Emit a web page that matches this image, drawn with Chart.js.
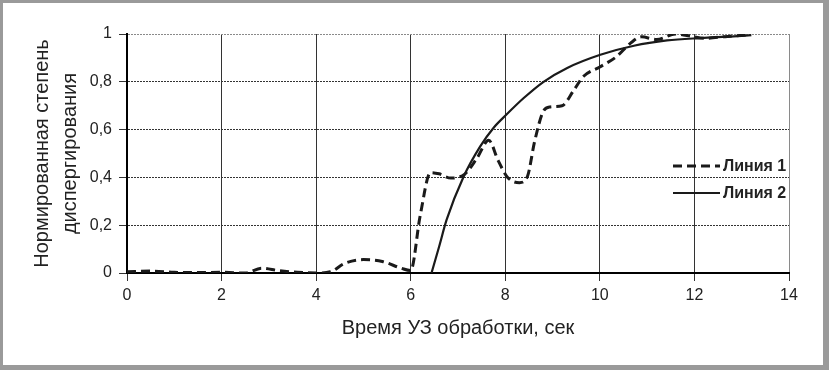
<!DOCTYPE html>
<html>
<head>
<meta charset="utf-8">
<script src="https://cdn.jsdelivr.net/npm/chart.js@4"></script>
<style>
  html, body { margin: 0; padding: 0; background: #fff; }
  #frame {
    width: 829px; height: 370px; box-sizing: border-box;
    border-top: 3px solid #9a9a9a; border-left: 3px solid #9a9a9a;
    border-right: 6px solid #9a9a9a; border-bottom: 5px solid #9a9a9a;
    background: #fff;
  }
  canvas { display: block; }
</style>
</head>
<body>
<div id="frame"><canvas id="chart" width="820" height="362"></canvas></div>
<script>
// --- данные ---
const line1X = [0, 0.5, 1, 1.5, 2, 2.5, 2.85, 3.2, 3.6, 4, 4.3, 4.6, 5.0, 5.4, 5.8, 6.0, 6.2, 6.42, 6.6, 6.85, 7.15, 7.4, 7.65, 7.85, 8.05, 8.3, 8.47, 8.62, 8.8, 8.95, 9.2, 9.45, 9.65, 10.0, 10.35, 10.65, 10.88, 11.2, 11.6, 11.95, 12.2, 12.7, 13.2];
const line1Y = [0.005, 0.008, 0.003, 0.002, 0.003, 0.0, 0.02, 0.01, 0.003, 0.0, 0.005, 0.04, 0.056, 0.048, 0.02, 0.01, 0.24, 0.42, 0.415, 0.397, 0.415, 0.48, 0.555, 0.47, 0.4, 0.378, 0.405, 0.55, 0.675, 0.695, 0.70, 0.765, 0.822, 0.862, 0.905, 0.962, 0.988, 0.977, 1.0, 0.99, 0.982, 0.99, 0.997];

const line2X = [6.44, 6.6, 6.76, 7.12, 7.47, 7.75, 8.02, 8.39, 8.81, 9.31, 10.01, 10.72, 11.42, 12.13, 12.83, 13.2];
const line2Y = [0, 0.11, 0.223, 0.404, 0.53, 0.607, 0.662, 0.732, 0.80, 0.858, 0.913, 0.951, 0.973, 0.983, 0.99, 0.995];

const seriesNames = ['Линия 1', 'Линия 2'];
const xTicks = [0, 2, 4, 6, 8, 10, 12, 14];
const yTickLabels = ['0', '0,2', '0,4', '0,6', '0,8', '1'];
const xTitle = 'Время УЗ обработки, сек';
const yTitle = ['Нормированная степень', 'диспергирования'];

const FONT = "Arial, 'Liberation Sans', sans-serif";
const TEXT = '#222';

const toPoints = (xs, ys) => xs.map((x, i) => ({ x: x, y: ys[i] }));

// легенда внутри области графика
const insideLegend = {
  id: 'insideLegend',
  afterDraw(chart) {
    const ctx = chart.ctx;
    const rows = [163, 190];
    chart.data.datasets.forEach((ds, i) => {
      const y = rows[i];
      ctx.save();
      ctx.strokeStyle = ds.borderColor;
      ctx.lineWidth = ds.borderWidth;
      ctx.setLineDash(ds.borderDash || []);
      ctx.beginPath();
      ctx.moveTo(670, y);
      ctx.lineTo(717, y);
      ctx.stroke();
      ctx.setLineDash([]);
      ctx.fillStyle = TEXT;
      ctx.font = 'bold 16px ' + FONT;
      ctx.textBaseline = 'middle';
      ctx.fillText(ds.label, 720, y + 1);
      ctx.restore();
    });
  }
};

new Chart(document.getElementById('chart'), {
  type: 'line',
  data: {
    datasets: [
      {
        label: seriesNames[0],
        data: toPoints(line1X, line1Y),
        borderColor: '#1a1a1a',
        borderWidth: 3,
        borderDash: [9, 5],
        pointRadius: 0,
        cubicInterpolationMode: 'monotone',
        fill: false
      },
      {
        label: seriesNames[1],
        data: toPoints(line2X, line2Y),
        borderColor: '#1a1a1a',
        borderWidth: 2.2,
        pointRadius: 0,
        cubicInterpolationMode: 'monotone',
        fill: false
      }
    ]
  },
  options: {
    responsive: false,
    animation: false,
    layout: { padding: { top: 31, right: 34, left: 0, bottom: 0 } },
    plugins: {
      legend: { display: false },
      tooltip: { enabled: false }
    },
    scales: {
      x: {
        type: 'linear',
        min: 0, max: 14,
        afterBuildTicks: (scale) => { scale.ticks = xTicks.map(v => ({ value: v })); },
        afterFit: (scale) => { scale.height = 92; },
        border: { color: '#000', width: 2 },
        grid: {
          color: (c) => c.tick && c.tick.value === 14 ? '#8a8a8a' : '#333',
          lineWidth: 1,
          tickLength: 8,
          tickColor: '#333'
        },
        ticks: {
          color: TEXT,
          padding: 5,
          font: { family: FONT, size: 16 },
          maxRotation: 0
        },
        title: {
          display: true,
          text: xTitle,
          color: TEXT,
          font: { family: FONT, size: 20 },
          padding: { top: 0, bottom: 25 }
        }
      },
      y: {
        min: 0, max: 1,
        afterBuildTicks: (scale) => { scale.ticks = yTickLabels.map((t, i) => ({ value: i * 0.2 })); },
        afterFit: (scale) => { scale.width = 124; },
        // dash здесь задаёт пунктир горизонтальных линий сетки
        border: { color: '#000', width: 2, dash: [2, 1] },
        grid: {
          color: (c) => c.tick && c.index === yTickLabels.length - 1 ? '#8a8a8a' : '#333',
          lineWidth: 1,
          tickLength: 8,
          tickColor: '#333'
        },
        ticks: {
          color: TEXT,
          padding: 7,
          font: { family: FONT, size: 16 },
          callback: (v, i) => yTickLabels[i]
        },
        title: {
          display: true,
          text: yTitle,
          color: TEXT,
          font: { family: FONT, size: 20, lineHeight: 1.4 },
          padding: { top: 25, bottom: 0 }
        }
      }
    }
  },
  plugins: [insideLegend]
});
</script>
</body>
</html>
